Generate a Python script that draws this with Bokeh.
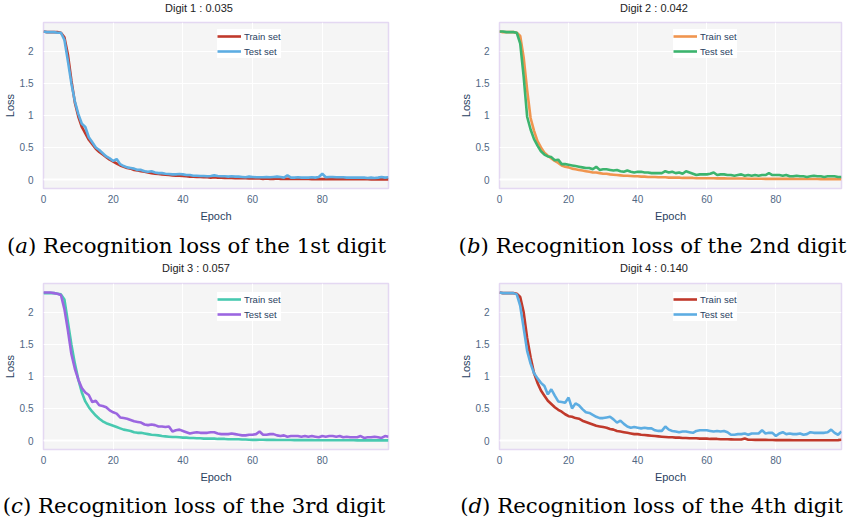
from bokeh.plotting import figure
from bokeh.layouts import row, column
from bokeh.models import (Range1d, FixedTicker, CustomJSTickFormatter, Legend,
                          LegendItem, Span, Div)
from bokeh.embed import file_html
from bokeh.resources import INLINE

epochs = list(range(100))

titles = ["Digit 1 : 0.035", "Digit 2 : 0.042", "Digit 3 : 0.057", "Digit 4 : 0.140"]
caption_tags = ["a", "b", "c", "d"]
captions = ["Recognition loss of the 1st digit",
            "Recognition loss of the 2nd digit",
            "Recognition loss of the 3rd digit",
            "Recognition loss of the 4th digit"]
series_names = ["Train set", "Test set"]
x_ticks = [0, 20, 40, 60, 80]
y_ticks = [0, 0.5, 1, 1.5, 2]

a_train = [2.31, 2.30, 2.30, 2.30, 2.30, 2.29, 2.22, 1.95, 1.55, 1.20,
           0.98, 0.82, 0.72, 0.62, 0.55, 0.48, 0.43, 0.39, 0.35, 0.31,
           0.28, 0.25, 0.22, 0.20, 0.18, 0.17, 0.15, 0.14, 0.13, 0.12,
           0.11, 0.10, 0.09, 0.085, 0.08, 0.075, 0.07, 0.065, 0.06, 0.06,
           0.055, 0.05, 0.045, 0.045, 0.04, 0.04, 0.035, 0.035, 0.03, 0.035,
           0.03, 0.03, 0.025, 0.025, 0.025, 0.02, 0.02, 0.02, 0.02, 0.015,
           0.015, 0.015, 0.015, 0.01, 0.015, 0.01, 0.01, 0.015, 0.01, 0.01,
           0.01, 0.01, 0.01, 0.008, 0.008, 0.008, 0.008, 0.006, 0.006, 0.006,
           0.008, 0.006, 0.006, 0.005, 0.005, 0.005, 0.005, 0.005, 0.004, 0.004,
           0.004, 0.004, 0.004, 0.004, 0.003, 0.003, 0.003, 0.003, 0.003, 0.003]
a_test = [2.31, 2.30, 2.30, 2.30, 2.29, 2.29, 2.18, 1.85, 1.50, 1.22,
          1.02, 0.87, 0.82, 0.66, 0.58, 0.50, 0.46, 0.41, 0.36, 0.33,
          0.29, 0.32, 0.24, 0.21, 0.19, 0.18, 0.17, 0.15, 0.15, 0.13,
          0.12, 0.13, 0.11, 0.10, 0.10, 0.09, 0.085, 0.08, 0.08, 0.085,
          0.08, 0.07, 0.07, 0.06, 0.06, 0.055, 0.055, 0.05, 0.055, 0.065,
          0.055, 0.05, 0.05, 0.045, 0.05, 0.045, 0.045, 0.04, 0.035, 0.045,
          0.04, 0.035, 0.035, 0.035, 0.04, 0.035, 0.04, 0.045, 0.04, 0.03,
          0.065, 0.03, 0.03, 0.035, 0.03, 0.03, 0.03, 0.035, 0.03, 0.04,
          0.09, 0.035, 0.04, 0.04, 0.035, 0.035, 0.035, 0.03, 0.03, 0.03,
          0.03, 0.03, 0.03, 0.025, 0.03, 0.025, 0.03, 0.04, 0.03, 0.035]

b_train = [2.31, 2.30, 2.30, 2.30, 2.30, 2.29, 2.24, 1.90, 1.40, 0.96,
           0.76, 0.60, 0.50, 0.42, 0.37, 0.33, 0.29, 0.26, 0.22, 0.20,
           0.19, 0.17, 0.16, 0.15, 0.14, 0.13, 0.12, 0.11, 0.11, 0.10,
           0.09, 0.09, 0.08, 0.075, 0.07, 0.065, 0.06, 0.06, 0.055, 0.05,
           0.05, 0.045, 0.045, 0.04, 0.04, 0.04, 0.035, 0.035, 0.035, 0.03,
           0.03, 0.03, 0.03, 0.025, 0.025, 0.025, 0.025, 0.02, 0.02, 0.02,
           0.02, 0.02, 0.02, 0.018, 0.018, 0.018, 0.015, 0.015, 0.015, 0.015,
           0.015, 0.015, 0.012, 0.012, 0.012, 0.012, 0.012, 0.01, 0.012, 0.01,
           0.01, 0.01, 0.01, 0.01, 0.01, 0.01, 0.008, 0.008, 0.008, 0.008,
           0.008, 0.008, 0.008, 0.007, 0.007, 0.007, 0.007, 0.006, 0.006, 0.006]
b_test = [2.31, 2.31, 2.30, 2.30, 2.30, 2.29, 2.12, 1.60, 0.98, 0.78,
          0.63, 0.53, 0.44, 0.39, 0.36, 0.35, 0.30, 0.31, 0.24, 0.24,
          0.23, 0.22, 0.21, 0.20, 0.19, 0.18, 0.18, 0.16, 0.20, 0.15,
          0.16, 0.16, 0.15, 0.14, 0.15, 0.13, 0.12, 0.14, 0.12, 0.11,
          0.12, 0.12, 0.11, 0.11, 0.10, 0.10, 0.10, 0.10, 0.13, 0.11,
          0.12, 0.10, 0.11, 0.09, 0.13, 0.11, 0.09, 0.07, 0.08, 0.08,
          0.08, 0.09, 0.11, 0.07, 0.08, 0.08, 0.07, 0.07, 0.06, 0.07,
          0.08, 0.06, 0.07, 0.06, 0.07, 0.06, 0.07, 0.07, 0.10, 0.07,
          0.07, 0.07, 0.06, 0.07, 0.05, 0.05, 0.06, 0.05, 0.05, 0.04,
          0.05, 0.06, 0.05, 0.05, 0.04, 0.05, 0.05, 0.05, 0.04, 0.04]

c_train = [2.30, 2.30, 2.30, 2.30, 2.29, 2.28, 2.20, 1.85, 1.50, 1.20,
           0.95, 0.75, 0.61, 0.52, 0.45, 0.39, 0.34, 0.30, 0.27, 0.25,
           0.23, 0.21, 0.19, 0.17, 0.16, 0.15, 0.13, 0.12, 0.12, 0.11,
           0.10, 0.09, 0.085, 0.08, 0.07, 0.065, 0.06, 0.055, 0.055, 0.05,
           0.045, 0.045, 0.04, 0.04, 0.035, 0.035, 0.03, 0.03, 0.03, 0.03,
           0.025, 0.025, 0.025, 0.02, 0.02, 0.02, 0.02, 0.015, 0.015, 0.012,
           0.01, 0.01, 0.012, 0.012, 0.01, 0.01, 0.01, 0.008, 0.008, 0.008,
           0.008, 0.008, 0.007, 0.007, 0.007, 0.006, 0.006, 0.006, 0.005, 0.005,
           0.005, 0.005, 0.005, 0.005, 0.004, 0.004, 0.004, 0.004, 0.004, 0.004,
           0.003, 0.003, 0.003, 0.003, 0.003, 0.003, 0.002, 0.002, 0.002, 0.002]
c_test = [2.31, 2.31, 2.31, 2.30, 2.29, 2.27, 2.05, 1.72, 1.35, 1.12,
          0.95, 0.82, 0.75, 0.71, 0.60, 0.62, 0.55, 0.54, 0.52, 0.47,
          0.44, 0.42, 0.36, 0.35, 0.34, 0.32, 0.30, 0.29, 0.28, 0.25,
          0.24, 0.25, 0.24, 0.22, 0.22, 0.21, 0.22, 0.14, 0.16, 0.17,
          0.15, 0.13, 0.11, 0.12, 0.13, 0.12, 0.12, 0.12, 0.13, 0.13,
          0.11, 0.10, 0.10, 0.10, 0.11, 0.10, 0.09, 0.08, 0.08, 0.09,
          0.09, 0.10, 0.14, 0.09, 0.09, 0.10, 0.10, 0.08, 0.07, 0.08,
          0.06, 0.07, 0.07, 0.07, 0.06, 0.07, 0.06, 0.07, 0.06, 0.05,
          0.07, 0.06, 0.07, 0.07, 0.06, 0.07, 0.05, 0.06, 0.05, 0.05,
          0.05, 0.07, 0.04, 0.05, 0.05, 0.06, 0.05, 0.04, 0.07, 0.06]

d_train = [2.31, 2.30, 2.30, 2.30, 2.30, 2.29, 2.24, 2.00, 1.60, 1.30,
           1.05, 0.90, 0.78, 0.70, 0.62, 0.57, 0.52, 0.48, 0.45, 0.41,
           0.38, 0.37, 0.35, 0.34, 0.31, 0.29, 0.27, 0.25, 0.23, 0.22,
           0.21, 0.20, 0.18, 0.17, 0.15, 0.14, 0.13, 0.12, 0.11, 0.10,
           0.10, 0.09, 0.085, 0.08, 0.075, 0.07, 0.065, 0.06, 0.055, 0.05,
           0.05, 0.045, 0.045, 0.04, 0.04, 0.035, 0.035, 0.035, 0.03, 0.03,
           0.03, 0.025, 0.025, 0.025, 0.02, 0.02, 0.02, 0.018, 0.015, 0.015,
           0.015, 0.03, 0.012, 0.012, 0.01, 0.01, 0.01, 0.01, 0.008, 0.008,
           0.006, 0.006, 0.006, 0.006, 0.006, 0.005, 0.005, 0.005, 0.005, 0.005,
           0.005, 0.005, 0.005, 0.005, 0.005, 0.005, 0.005, 0.005, 0.006, 0.012]
d_test = [2.31, 2.30, 2.30, 2.30, 2.30, 2.28, 2.10, 1.75, 1.40, 1.20,
          1.05, 0.97, 0.90, 0.85, 0.72, 0.80, 0.70, 0.61, 0.60, 0.59,
          0.67, 0.50, 0.58, 0.55, 0.49, 0.44, 0.43, 0.40, 0.37, 0.35,
          0.35, 0.36, 0.37, 0.33, 0.28, 0.31, 0.26, 0.22, 0.20, 0.21,
          0.20, 0.19, 0.20, 0.19, 0.19, 0.16, 0.15, 0.15, 0.22, 0.17,
          0.15, 0.14, 0.13, 0.14, 0.14, 0.13, 0.12, 0.15, 0.16, 0.16,
          0.16, 0.15, 0.14, 0.15, 0.14, 0.15, 0.13, 0.09, 0.09, 0.10,
          0.10, 0.11, 0.09, 0.11, 0.11, 0.11, 0.16, 0.11, 0.12, 0.12,
          0.07, 0.11, 0.13, 0.10, 0.11, 0.10, 0.10, 0.11, 0.09, 0.10,
          0.13, 0.12, 0.12, 0.12, 0.12, 0.13, 0.17, 0.12, 0.09, 0.14]

colors = [("#c0392b", "#5dade2"), ("#f0954f", "#3cb46e"),
          ("#48c9b0", "#9b66e0"), ("#c0392b", "#5dade2")]

TICK_COLOR = "#506784"
LABEL_COLOR = "#2a3f5f"


def make_panel(idx, train, test, width, height, bl, br, bt, bb, leg_dy):
    p = figure(width=width, height=height, output_backend="svg", toolbar_location=None,
               x_range=Range1d(0, 99), y_range=Range1d(-0.14, 2.45),
               min_border_left=bl, min_border_right=br, min_border_top=bt,
               min_border_bottom=bb)
    p.background_fill_color = "#f5f5f5"
    p.border_fill_color = "white"
    p.outline_line_color = "#e4d8f2"
    p.outline_line_width = 1.5

    for ax in (p.xaxis, p.yaxis):
        ax.axis_line_color = None
        ax.major_tick_line_color = None
        ax.minor_tick_line_color = None
        ax.major_label_text_font = "Liberation Sans"
        ax.major_label_text_font_size = "10px"
        ax.major_label_text_color = TICK_COLOR
        ax.axis_label_text_font = "Liberation Sans"
        ax.axis_label_text_font_size = "11px"
        ax.axis_label_text_font_style = "normal"
        ax.axis_label_text_color = LABEL_COLOR
    p.xaxis.ticker = FixedTicker(ticks=x_ticks)
    p.yaxis.ticker = FixedTicker(ticks=y_ticks)
    p.yaxis.formatter = CustomJSTickFormatter(code="return String(Math.round(tick*10)/10)")
    p.xaxis.axis_label = "Epoch"
    p.yaxis.axis_label = "Loss"
    p.xaxis.major_label_standoff = 0
    p.xaxis.axis_label_standoff = 4
    p.yaxis.major_label_standoff = 4
    p.yaxis.axis_label_standoff = 1

    p.grid.grid_line_color = "white"
    p.grid.grid_line_width = 1
    p.add_layout(Span(location=0, dimension="width", line_color="white",
                      line_width=2, level="underlay"))

    r1 = p.line(epochs, train, line_color=colors[idx][0], line_width=2.6)
    r2 = p.line(epochs, test, line_color=colors[idx][1], line_width=2.6)

    frame_h = height - bt - bb
    legend = Legend(items=[LegendItem(label=series_names[0], renderers=[r1]),
                           LegendItem(label=series_names[1], renderers=[r2])],
                    location=(174, frame_h - 36 - leg_dy))
    legend.background_fill_color = "white"
    legend.background_fill_alpha = 1
    legend.border_line_color = None
    legend.label_text_font = "Liberation Sans"
    legend.label_text_font_size = "9.5px"
    legend.label_text_color = LABEL_COLOR
    legend.glyph_width = 24
    legend.glyph_height = 14
    legend.label_height = 14
    legend.label_standoff = 3
    legend.spacing = 1
    legend.padding = 4
    legend.margin = 0
    p.add_layout(legend)
    return p


BOX = "width:425px;box-sizing:border-box;white-space:nowrap;text-align:center;"


def make_title(idx, height, pad_top, pad_left, pad_right):
    html = ('<div style="font-family:\'Liberation Sans\';font-size:11px;line-height:11px;'
            'color:#222222;' + BOX +
            f'padding-top:{pad_top}px;padding-left:{pad_left}px;padding-right:{pad_right}px;">'
            f'{titles[idx]}</div>')
    return Div(text=html, width=425, height=height, margin=0)


def make_caption(idx, height, pad_top, pad_left, pad_right):
    html = ('<div style="font-family:\'DejaVu Serif\';font-size:21.3px;line-height:21px;'
            'color:black;' + BOX +
            f'padding-top:{pad_top}px;padding-left:{pad_left}px;padding-right:{pad_right}px;">'
            f'(<i>{caption_tags[idx]}</i>) {captions[idx]}</div>')
    return Div(text=html, width=425, height=height, margin=0)


t1 = make_title(0, 20, 1, 0, 27)
t2 = make_title(1, 20, 1, 33, 0)
t3 = make_title(2, 21, 1, 0, 33)
t4 = make_title(3, 21, 1, 33, 0)

p1 = make_panel(0, a_train, a_test, 425, 208, 42, 37, 2, 40, 0)
p2 = make_panel(1, b_train, b_test, 425, 208, 74, 9, 2, 40, 0)
p3 = make_panel(2, c_train, c_test, 425, 208, 42, 37, 2, 40, 2)
p4 = make_panel(3, d_train, d_test, 425, 208, 74, 9, 2, 40, 2)

cap1 = make_caption(0, 32, 7, 0, 32)
cap2 = make_caption(1, 32, 7, 30, 0)
cap3 = make_caption(2, 34, 6, 0, 37)
cap4 = make_caption(3, 34, 6, 28, 0)

layout = column(row(t1, t2), row(p1, p2), row(cap1, cap2),
                row(t3, t4), row(p3, p4), row(cap3, cap4))

with open("out.html", "w") as f:
    f.write(file_html(layout, INLINE))
